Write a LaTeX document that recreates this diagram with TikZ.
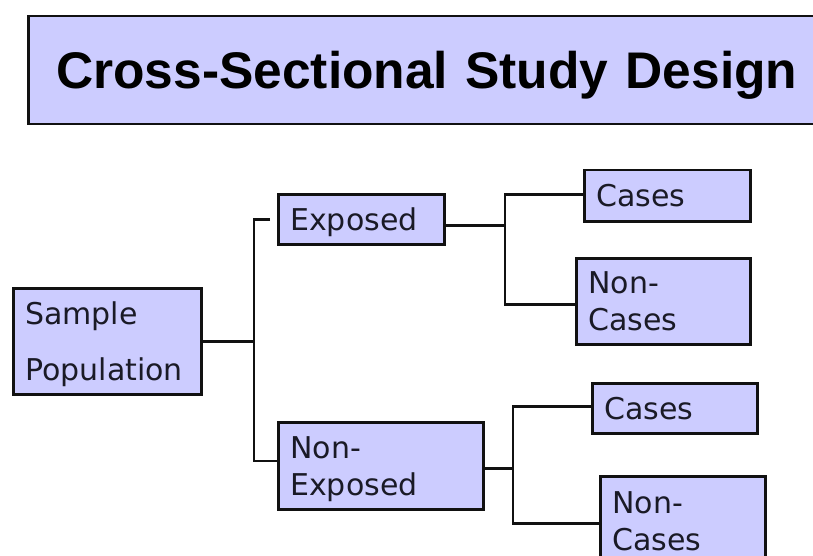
\documentclass[tikz,border=0pt]{standalone}
\usepackage{fontspec}
\newfontfamily\bodyfam{DejaVu Sans}
\newfontfamily\titlefam{Liberation Sans}
\usetikzlibrary{calc}
\definecolor{boxfill}{HTML}{CCCCFF}
\definecolor{edgecol}{HTML}{111111}
\definecolor{ink}{HTML}{1A1A26}
\begin{document}
\begin{tikzpicture}[x=1pt,y=-1pt,
  box/.style={draw=edgecol, fill=boxfill, line width=2.5pt, rectangle, anchor=north west,
    inner xsep=12pt, inner ysep=0pt, align=left, text=ink,
    font=\bodyfam\fontsize{30}{37}\selectfont, text height=22pt, text depth=0pt},
  twoline/.style={text depth=37pt},
  conn/.style={draw=edgecol, line width=2.5pt}]
\clip (0,0) rectangle (813,556);
\fill[white] (0,0) rectangle (813,556);
% title
\node[box, minimum width=797pt, minimum height=108pt, align=center, text width=773pt,
  text=black, font=\titlefam\bfseries\fontsize{51.5}{60}\selectfont, text height=37pt]
  (title) at (27,15) {Cross-Sectional Study Design};
% boxes
\node[box, text width=164pt, minimum height=106pt, text depth=56pt] (sample) at (12,287) {Sample\\[19pt]Population};
\node[box, text width=142pt, minimum height=50pt] (exposed) at (277,193) {Exposed};
\node[box, twoline, text width=181pt, minimum height=87pt] (nonexposed) at (277,421) {Non-\\Exposed};
\node[box, text width=142pt, minimum height=51pt] (cases1) at (583,169) {Cases};
\node[box, twoline, text width=150pt, minimum height=86pt] (noncases1) at (575,257) {Non-\\Cases};
\node[box, text width=141pt, minimum height=50pt] (cases2) at (591,382) {Cases};
\node[box, twoline, text width=141pt, minimum height=89pt] (noncases2) at (599,475) {Non-\\Cases};
% branch x positions
\coordinate (b1) at (254,0);
\coordinate (b2) at (505,0);
\coordinate (b3) at (513,0);
% first split
\coordinate (ne) at ([yshift=5pt]nonexposed.west);
\draw[conn] (sample.east) -- (sample.east -| b1);
\draw[conn] ([xshift=-7pt]exposed.west) -| (b1 |- ne) -- (ne);
% exposed split
\coordinate (e1) at ([yshift=-6pt]exposed.east);
\coordinate (c1) at ([yshift=1.5pt]cases1.west);
\coordinate (nc1) at ([yshift=-3pt]noncases1.west);
\draw[conn] (e1) -- (e1 -| b2);
\draw[conn] (c1) -| (b2 |- nc1) -- (nc1);
% non-exposed split
\coordinate (e2) at ([yshift=-2.5pt]nonexposed.east);
\coordinate (c2) at ([yshift=2pt]cases2.west);
\coordinate (nc2) at ([yshift=-2.5pt]noncases2.west);
\draw[conn] (e2) -- (e2 -| b3);
\draw[conn] (c2) -| (b3 |- nc2) -- (nc2);
\end{tikzpicture}
\end{document}
